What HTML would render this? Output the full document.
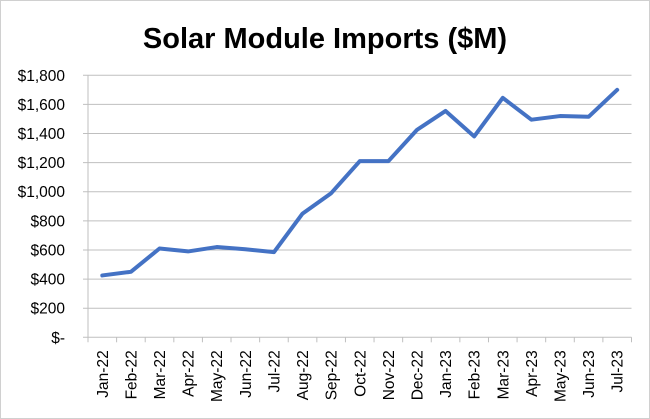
<!DOCTYPE html>
<html><head><meta charset="utf-8"><style>
body{margin:0;background:#fff}
svg{display:block;font-family:"Liberation Sans",Arial,sans-serif}
</style></head><body>
<svg id="c" width="650" height="419">
<rect x="0.5" y="0.5" width="649" height="418" fill="#fff" stroke="#d0d0d0"/>
<text x="325" y="48" text-anchor="middle" font-size="29" font-weight="bold" fill="#000">Solar Module Imports ($M)</text>
<g id="grid"></g><g id="axes"></g><g id="series"></g>
</svg>
<script>
const categories=["Jan-22","Feb-22","Mar-22","Apr-22","May-22","Jun-22","Jul-22","Aug-22","Sep-22","Oct-22","Nov-22","Dec-22","Jan-23","Feb-23","Mar-23","Apr-23","May-23","Jun-23","Jul-23"];
const values=[425,450,610,590,620,605,585,850,990,1210,1210,1425,1555,1380,1645,1495,1520,1515,1700];
const yTicks=[0,200,400,600,800,1000,1200,1400,1600,1800];
const yTickLabels=["$-","$200","$400","$600","$800","$1,000","$1,200","$1,400","$1,600","$1,800"];
const NS="http://www.w3.org/2000/svg";
const L=88,R=631.5,T=75.3,B=337.3,YMAX=1800;
const y=v=>B-(v/YMAX)*(B-T);
const step=(R-L)/categories.length;
const x=i=>L+step*(i+0.5);
function mk(tag,attrs,parent){const e=document.createElementNS(NS,tag);for(const k in attrs)e.setAttribute(k,attrs[k]);document.getElementById(parent).appendChild(e);return e;}
yTicks.forEach((t,i)=>{
 const g=mk('line',{x1:L-5,x2:R,y1:y(t),y2:y(t),stroke:'#bfbfbf','stroke-width':1},'grid');
 
 
 const tx=mk('text',{x:L-23,y:y(t)+5.5,'text-anchor':'end','font-size':15.5,fill:'#000'},'axes');
 tx.textContent=yTickLabels[i];
 
 
});
const ax=mk('line',{x1:L,x2:L,y1:T,y2:B,stroke:'#bfbfbf'},'axes');


for(let i=0;i<=categories.length;i++){
 const tk=mk('line',{x1:L+step*i,x2:L+step*i,y1:B,y2:B+5,stroke:'#bfbfbf'},'axes');
 
 
}
categories.forEach((c,i)=>{
 const tx=mk('text',{transform:`translate(${x(i)+5.5},${B+13}) rotate(-90)`,'text-anchor':'end','font-size':15.5,fill:'#000'},'axes');
 tx.textContent=c;
 
 
});
const pl=mk('polyline',{points:values.map((v,i)=>x(i)+','+y(v)).join(' '),fill:'none',stroke:'#4472c4','stroke-width':4,'stroke-linejoin':'round','stroke-linecap':'round'},'series');


</script>
</body></html>
